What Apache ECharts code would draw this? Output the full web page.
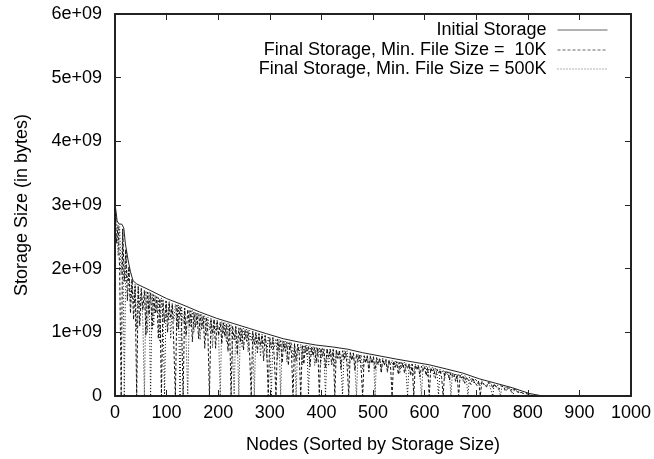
<!DOCTYPE html>
<html>
<head>
<meta charset="utf-8">
<script src="https://cdn.jsdelivr.net/npm/echarts@6/dist/echarts.min.js"></script>
<style>
html,body{margin:0;padding:0;background:#fff;}
#chart{width:654px;height:459px;}
</style>
</head>
<body>
<div id="chart"></div>
<script>
// Storage values are in units of 1e8 bytes (10 units = 1e+09 bytes)
const seriesNames = ['Initial Storage', 'Final Storage, Min. File Size =  10K', 'Final Storage, Min. File Size = 500K'];
const yTickLabels = ['0', '1e+09', '2e+09', '3e+09', '4e+09', '5e+09', '6e+09'];
const xTickLabels = ['0','100','200','300','400','500','600','700','800','900','1000'];

const initialNodes = [0,2,4,8,13,17,20,25,30,35,42,68,100,132,164,197,229,261,293,326,358,390,422,451,480,545,609,642,674,706,738,770,803,829];
const initialSize  = [30,29,27.5,27,27,26.4,24,21.5,19.5,18.1,17.6,16.6,15.3,14.3,13.2,12.2,11.4,10.6,9.8,9.0,8.45,8.0,7.7,7.35,6.8,5.8,4.9,4.25,3.6,2.7,2.0,1.3,0.4,0];

// final storage sampled every 3rd node (node = index * 3)
const NODE_STEP = 3;
const final10K = [
29.5,24,26.8,20,0,26.2,18,23,15,20.2,
13,18.3,12,17.3,0,17.1,11,16.8,13.5,16.6,
9.5,16.3,12.8,16.2,10.5,15.9,13,15.6,9,15.3,
0,15.1,11.5,14.9,10,14.7,12.2,14.4,8,0,
14.3,10.5,14.1,11.5,0,13.8,9.5,13.6,11,13.4,
8.5,13.2,10.8,13,9,12.8,10.5,12.6,7.5,12.4,
10,0,12.1,9.8,12,7.5,11.8,9.5,11.6,8.2,
11.5,9.3,11.3,7,11.2,0,11,8.8,10.9,6.5,
10.7,8.5,10.6,7.2,10.4,8.6,10.3,6.4,0,10.1,
8.1,9.9,6.8,9.8,7.9,9.6,5.5,9.5,7.6,0,
9.2,7.5,9.1,5.6,0,8.9,7.2,8.7,5.2,8.6,
7,8.5,4.8,8.4,6.8,0,8.2,5.5,8.1,6.7,
0,8,5,7.9,6.5,7.8,4.6,7.7,6.3,7.6,
5.2,7.6,0,7.5,6.2,7.4,4.4,7.4,6.1,7.3,
4.9,7.3,0,7.2,5.9,7.1,4.2,7.1,5.8,7,
4.6,0,6.8,5.6,6.7,4,6.6,5.4,6.5,4.3,
0,6.3,5.2,6.3,3.8,6.2,5.1,6.1,4.1,6,
4.9,5.9,3.6,5.8,4.8,5.7,3.9,5.6,4.7,0,
5.5,4.5,5.4,3.4,5.3,4.4,5.2,3.6,5.1,4.3,
5,3.2,5,0,4.9,4.1,4.8,3,4.7,4,
4.6,3.2,4.5,0,4.4,3.8,4.3,2.8,4.2,3.6,
4.1,2.9,0,3.9,3.4,3.8,2.5,3.7,3.1,3.5,
2.3,3.4,0,3.3,2.8,3.2,2,3,2.6,2.9,
1.8,2.8,2.3,2.6,1.6,2.4,0,2.3,1.9,2.2,
1.4,2.1,1.8,2,1.2,1.9,1.5,1.7,1,1.6,
1.3,1.5,0.9,1.3,1.1,1.2,0.7,1.1,0.9,1,
0.6,0.8,0.6,0.7,0.4,0.5,0.35,0.4,0.2,0.2,0
];
const final500K = [
27,27.9,22,26.6,19,26.3,0,23.1,18,20.4,
15,18.4,14.5,17.5,10.5,17.2,14,17,11.5,0,
16.5,10,16.4,0,16.1,11,15.8,13.2,15.6,8.5,
15.4,12.5,0,15,12,14.8,9,14.6,11.8,14.4,
10.5,14.3,0,14.1,11.4,13.9,8.2,0,13.5,10.8,
13.4,10,13.1,11.2,13,8.8,12.8,10.6,12.6,9.5,
12.4,10.4,12.2,7.6,12.1,10.2,11.9,8.8,0,11.7,
9.8,11.5,8.4,11.4,9.6,11.2,6.8,0,11,9.2,
0,10.8,7.8,10.6,8.9,10.5,6.9,10.3,8.6,10.2,
0,10,8.4,9.9,6.2,9.7,8.1,9.6,6,9.4,
7.8,0,9.2,7.6,9,5.8,8.9,0,8.7,7.3,
8.6,5.4,8.5,7.1,8.4,5.9,8.3,0,8.2,6.9,
8.1,4.9,8,6.7,8,0,7.9,6.5,7.8,4.8,
7.7,6.4,7.6,5.1,7.6,6.3,0,7.5,4.7,7.4,
6.2,7.4,4.5,7.3,6.1,7.2,5,0,7.1,5.9,
7.1,4.3,6.9,5.8,6.8,4.6,0,6.6,5.5,6.5,
4.1,6.4,5.4,6.4,4.4,6.3,5.3,6.2,0,6.1,
5.1,6,4.2,5.9,5,5.8,3.7,5.7,4.9,5.6,
3.9,5.5,4.7,5.4,3.5,5.4,4.5,5.3,3.8,0,
5.1,4.4,5.1,3.3,5,4.2,4.9,3.4,0,4.8,
4.1,4.7,3,4.6,3.9,4.5,3.1,4.4,3.7,0,
4.2,3.6,4.1,2.7,4,3.3,3.9,0,3.7,3,
3.6,2.4,3.5,2.9,3.4,2.2,3.2,2.7,0,3,
2.5,2.9,1.9,2.7,2.2,2.5,1.6,2.4,2,2.3,
1.5,2.1,1.7,2,0,1.9,1.4,1.8,1.1,0,
1.5,1.2,1.4,0.8,1.3,1,1.2,0,1,0.8,
0.9,0.5,0.7,0.6,0.6,0,0.4,0.3,0.3,0.2,0
];

const FONT = '"Liberation Sans", Arial, Helvetica, sans-serif';
const initialData = initialNodes.map((n, i) => [n, initialSize[i]]);
const data10K = final10K.map((v, i) => [i * NODE_STEP, v]);
const data500K = final500K.map((v, i) => [i * NODE_STEP, v]);

const axisLine = { show: true, onZero: false, lineStyle: { color: '#222', width: 2 } };
const tick = { show: true, inside: true, length: 6, lineStyle: { color: '#222', width: 1 } };

const chart = echarts.init(document.getElementById('chart'), null, { renderer: 'canvas' });
const legendTop = [21, 41, 60];
chart.setOption({
  animation: false,
  backgroundColor: '#fff',
  grid: { left: 115, right: 22, top: 14, bottom: 59, containLabel: false },
  xAxis: [{
    type: 'value', min: 0, max: 1000, interval: 100, position: 'bottom',
    name: 'Nodes (Sorted by Storage Size)', nameLocation: 'middle', nameGap: 40,
    nameTextStyle: { fontFamily: FONT, fontSize: 18, color: '#000' },
    axisLine: axisLine, axisTick: tick, splitLine: { show: false },
    axisLabel: { fontFamily: FONT, fontSize: 18, color: '#000', margin: 8,
      formatter: v => xTickLabels[Math.round(v / 100)] }
  }, {
    type: 'value', min: 0, max: 1000, interval: 100, position: 'top',
    axisLine: axisLine, axisTick: tick, splitLine: { show: false }, axisLabel: { show: false }
  }],
  yAxis: [{
    type: 'value', min: 0, max: 60, interval: 10, position: 'left',
    name: 'Storage Size (in bytes)', nameLocation: 'middle', nameGap: 84, nameRotate: 90,
    nameTextStyle: { fontFamily: FONT, fontSize: 18, color: '#000' },
    axisLine: axisLine, axisTick: tick, splitLine: { show: false },
    axisLabel: { fontFamily: FONT, fontSize: 18, color: '#000', margin: 13,
      formatter: v => yTickLabels[Math.round(v / 10)] }
  }, {
    type: 'value', min: 0, max: 60, interval: 10, position: 'right',
    axisLine: axisLine, axisTick: tick, splitLine: { show: false }, axisLabel: { show: false }
  }],
  legend: [0, 1, 2].map(k => ({
    data: [seriesNames[k]], right: 46, top: legendTop[k], padding: 0,
    orient: 'vertical', align: 'right', itemWidth: 50, itemHeight: 1,
    selectedMode: false,
    itemStyle: { opacity: 0 },
    lineStyle: { color: '#666', width: 1 },
    textStyle: { fontFamily: FONT, fontSize: 18, color: '#000', padding: [0, 6, 0, 0] }
  })),
  series: [{
    name: seriesNames[2], type: 'line', data: data500K, symbol: 'none', z: 2,
    lineStyle: { color: '#111', width: 1, type: [1, 2] }, itemStyle: { color: '#111' }
  }, {
    name: seriesNames[1], type: 'line', data: data10K, symbol: 'none', z: 3,
    lineStyle: { color: '#111', width: 1, type: [3, 2] }, itemStyle: { color: '#111' }
  }, {
    name: seriesNames[0], type: 'line', data: initialData, symbol: 'none', z: 4,
    lineStyle: { color: '#222', width: 1, type: 'solid' }, itemStyle: { color: '#222' }
  }]
});
</script>
</body>
</html>
